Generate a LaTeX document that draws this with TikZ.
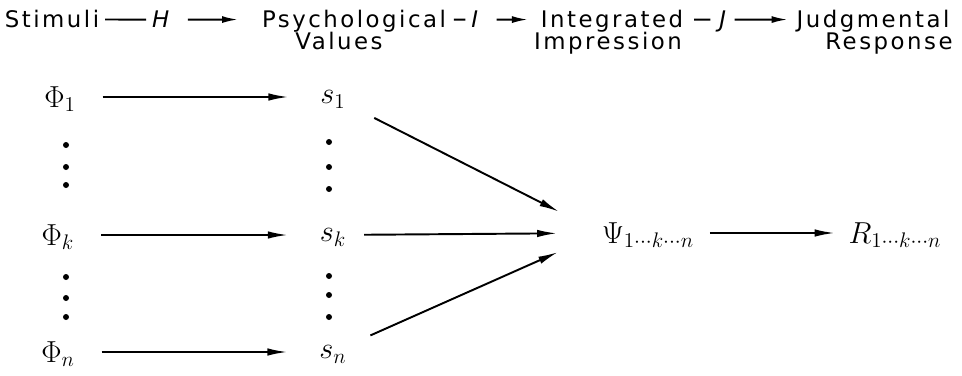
\documentclass[tikz,border=0pt]{standalone}
\usepackage{fontspec}
\setmainfont{DejaVu Sans}[LetterSpace=11]
\usetikzlibrary{arrows.meta}

\begin{document}
\begin{tikzpicture}[x=0.02cm, y=-0.02cm, line width=1.1pt,
	head/.style={anchor=base, inner sep=0.1cm, text depth=0pt, font=\fontsize{13}{15}\selectfont},
	var/.style={inner sep=0pt, text depth=0pt, font=\fontsize{17}{20}\selectfont},
	big/.style={-{Latex[length=0.4cm, width=0.15cm]}},
	small/.style={-{Latex[length=0.32cm, width=0.14cm]}}]
	\useasboundingbox (0,0) rectangle (962,375);
	% header line
	\node [head] (stim) at (52,28) {Stimuli};
	\node [head] (H) at (162,28) {\textit{H}};
	\node [head] (psy) at (354,28) {Psychological};
	\node [head] (psyb) at (339,50) {Values};
	\node [head] (I) at (476,28) {\textit{I}};
	\node [head] (integ) at (612,28) {Integrated};
	\node [head] (integb) at (608,50) {Impression};
	\node [head] (J) at (724,28) {\textit{J}};
	\node [head] (judg) at (873,28) {Judgmental};
	\node [head] (judgb) at (889,50) {Response};
	\draw (stim) -- (H);
	\draw [small, shorten <=0.2cm, shorten >=0.36cm] (H) -- (psy);
	\draw [shorten <=0.04cm] (psy) -- (I);
	\draw [small, shorten <=0.2cm, shorten >=0.14cm] (I) -- (integ);
	\draw [shorten <=0.1cm, shorten >=0.06cm] (integ) -- (J);
	\draw [small, shorten >=0.06cm] (J) -- (judg);
	% stimuli and values
	\node [var] (phi1) at (60,97) {$\Phi_1$};
	\node [var] (phik) at (58,235) {$\Phi_k$};
	\node [var] (phin) at (58,352) {$\Phi_n$};
	\node [var] (s1) at (333,97) {$s_1$};
	\node [var] (sk) at (333,235) {$s_k$};
	\node [var] (sn) at (333,352) {$s_n$};
	\foreach \y in {145,167,185,277,298,317} \fill (66,\y) circle (0.06cm);
	\foreach \y in {142,167,189,276,295,317} \fill (329,\y) circle (0.06cm);
	\draw [big, shorten <=0.52cm, shorten >=0.62cm] (phi1) -- (s1);
	\draw [big, shorten <=0.52cm, shorten >=0.62cm] (phik) -- (sk);
	\draw [big, shorten <=0.52cm, shorten >=0.62cm] (phin) -- (sn);
	% integration and response
	\node [var] (psi) at (648,233) {$\Psi_{1\cdots k\cdots n}$};
	\node [var] (R) at (895,233) {$R_{1\cdots k\cdots n}$};
	\draw [big, shorten <=0.62cm, shorten >=0.94cm] (s1) -- (psi.west);
	\draw [big, shorten <=0.34cm, shorten >=0.88cm] (sk) -- (psi.west);
	\draw [big, shorten <=0.5cm, shorten >=0.94cm] (sn) -- (psi.west);
	\draw [big, shorten <=0.3cm, shorten >=0.26cm] (psi) -- (R);
\end{tikzpicture}
\end{document}
